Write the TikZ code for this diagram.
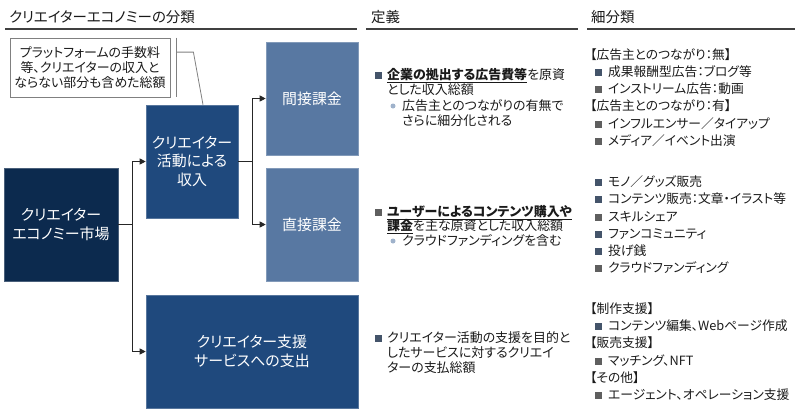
\documentclass[tikz,border=0pt]{standalone}
\usepackage{fontspec}
\setmainfont{Noto Sans CJK JP}[RawFeature=+palt]
\usetikzlibrary{arrows.meta}
\definecolor{navy}{HTML}{0C2A4E}
\definecolor{midblue}{HTML}{1F497D}
\definecolor{lightblue}{HTML}{5878A2}
\definecolor{txt}{HTML}{1A1A1A}
\definecolor{slate}{HTML}{44546A}
\definecolor{grayb}{HTML}{5F5F5F}
\definecolor{subb}{HTML}{9FB2CB}
\definecolor{rulec}{HTML}{404040}
\definecolor{callc}{HTML}{808080}
\begin{document}
\begin{tikzpicture}[x=1bp,y=-1bp,
  box/.style={draw=#1!75!white, line width=0.6bp, fill=#1, text=white,
    font=\fontsize{15}{19}\selectfont, align=center, inner sep=0},
  conn/.style={draw=black!85, line width=0.9bp, -{Triangle[length=6bp,width=6bp]}},
  hdr/.style={anchor=base west, inner sep=0, yshift=-5.3bp, text=black!90,
    font=\fontsize{14.5}{17}\selectfont},
  hrule/.style={draw=rulec, line width=1.2bp},
  dl/.style={anchor=base west, inner sep=0, yshift=-4.8bp, text=txt,
    font=\fontsize{13}{15}\selectfont},
  rl/.style={anchor=base west, inner sep=0, yshift=-4.7bp, text=txt,
    font=\fontsize{12.8}{15}\selectfont},
  sq/.style={fill=#1, minimum size=7bp, inner sep=0, draw=none},
  sub/.style={fill=subb, circle, minimum size=5bp, inner sep=0, draw=none},
  callout/.style={draw=callc, line width=0.8bp}
]
\useasboundingbox (0,0) rectangle (800,411);

% headers
\node[hdr] (h1) at (9,17) {クリエイターエコノミーの分類};
\node[hdr] (h2) at (371,17) {定義};
\node[hdr] (h3) at (591,17) {細分類};
\draw[hrule] (5,29) -- (357,29);
\draw[hrule] (366,29) -- (578,29);
\draw[hrule] (587,29) -- (795,29);

% boxes
\node[box=navy, minimum width=114bp, minimum height=113bp] (market) at (61,224.5)
  {クリエイター\\エコノミー市場};
\node[box=midblue, minimum width=92bp, minimum height=113bp] (income) at (192,161.5)
  {クリエイター\\活動による\\収入};
\node[box=lightblue, minimum width=92bp, minimum height=113bp] (indirect) at (312,98.5)
  {間接課金};
\node[box=lightblue, minimum width=92bp, minimum height=113bp] (direct) at (312,224.5)
  {直接課金};
\node[box=midblue, minimum width=212bp, minimum height=113bp] (support) at (252,351.5)
  {クリエイター支援\\サービスへの支出};

% connectors
\draw[conn] (market.east) -- ++(14,0) |- (income.west);
\draw[conn] (market.east) -- ++(14,0) |- (support.west);
\draw[conn] (income.east) -- ++(14,0) |- (indirect.west);
\draw[conn] (income.east) -- ++(14,0) |- (direct.west);

% callout
\node[callout, fill=white, minimum width=160bp, minimum height=59bp, inner sep=0,
  align=center, text=txt, font=\fontsize{13}{15}\selectfont] (note) at (90,67.5)
  {プラットフォームの手数料\\等、クリエイターの収入と\\ならない部分も含めた総額};
\draw[callout] ([xshift=6bp]note.north east) -- ([xshift=6bp]note.south east);
\draw[callout] ([xshift=6bp,yshift=-14.5bp]note.north east) -- ++(17,0)
  -- ([xshift=11bp]income.north);

% definition column
\node[sq=slate] (d1b) at (378.5,75) {};
\node[dl] (d1a) at (387,75) {\textbf{\underline{企業の拠出する広告費等}}を原資};
\node[dl] (d1c) at (387,90) {とした収入総額};
\node[sub] (d1s) at (393,106) {};
\node[dl] (d1d) at (402,106) {広告主とのつながりの有無で};
\node[dl] (d1e) at (402,121) {さらに細分化される};

\node[sq=grayb] (d2b) at (378.5,212) {};
\node[dl] (d2a) at (387,212) {\textbf{\underline{ユーザーによるコンテンツ購入や}}};
\node[dl] (d2c) at (387,226) {\textbf{\underline{課金}}を主な原資とした収入総額};
\node[sub] (d2s) at (393,241) {};
\node[dl] (d2d) at (402,241) {クラウドファンディングを含む};

\node[sq=slate] (d3b) at (378.5,338) {};
\node[dl] (d3a) at (387,338) {クリエイター活動の支援を目的と};
\node[dl] (d3c) at (387,353) {したサービスに対するクリエイ};
\node[dl] (d3d) at (387,368) {ターの支払総額};

% sub-classification column
\node[rl] (r11) at (590,55) {【広告主とのつながり：無】};
\node[sq=slate] (s12) at (598.5,72) {};
\node[rl] (r12) at (608,72) {成果報酬型広告：ブログ等};
\node[sq=grayb] (s13) at (598.5,89) {};
\node[rl] (r13) at (608,89) {インストリーム広告：動画};
\node[rl] (r14) at (590,106) {【広告主とのつながり：有】};
\node[sq=grayb] (s15) at (598.5,124) {};
\node[rl] (r15) at (608,124) {インフルエンサー／タイアップ};
\node[sq=grayb] (s16) at (598.5,141) {};
\node[rl] (r16) at (608,141) {メディア／イベント出演};

\node[sq=slate] (s21) at (598.5,182) {};
\node[rl] (r21) at (608,182) {モノ／グッズ販売};
\node[sq=slate] (s22) at (598.5,199) {};
\node[rl] (r22) at (608,199) {コンテンツ販売：文章・イラスト等};
\node[sq=grayb] (s23) at (598.5,217) {};
\node[rl] (r23) at (608,217) {スキルシェア};
\node[sq=slate] (s24) at (598.5,234) {};
\node[rl] (r24) at (608,234) {ファンコミュニティ};
\node[sq=slate] (s25) at (598.5,251) {};
\node[rl] (r25) at (608,251) {投げ銭};
\node[sq=grayb] (s26) at (598.5,268) {};
\node[rl] (r26) at (608,268) {クラウドファンディング};

\node[rl] (r31) at (590,309) {【制作支援】};
\node[sq=slate] (s32) at (598.5,326) {};
\node[rl] (r32) at (608,326) {コンテンツ編集、Webページ作成};
\node[rl] (r33) at (590,343) {【販売支援】};
\node[sq=grayb] (s34) at (598.5,361) {};
\node[rl] (r34) at (608,361) {マッチング、NFT};
\node[rl] (r35) at (590,378) {【その他】};
\node[sq=grayb] (s36) at (598.5,395) {};
\node[rl] (r36) at (608,395) {エージェント、オペレーション支援};
\end{tikzpicture}
\end{document}
